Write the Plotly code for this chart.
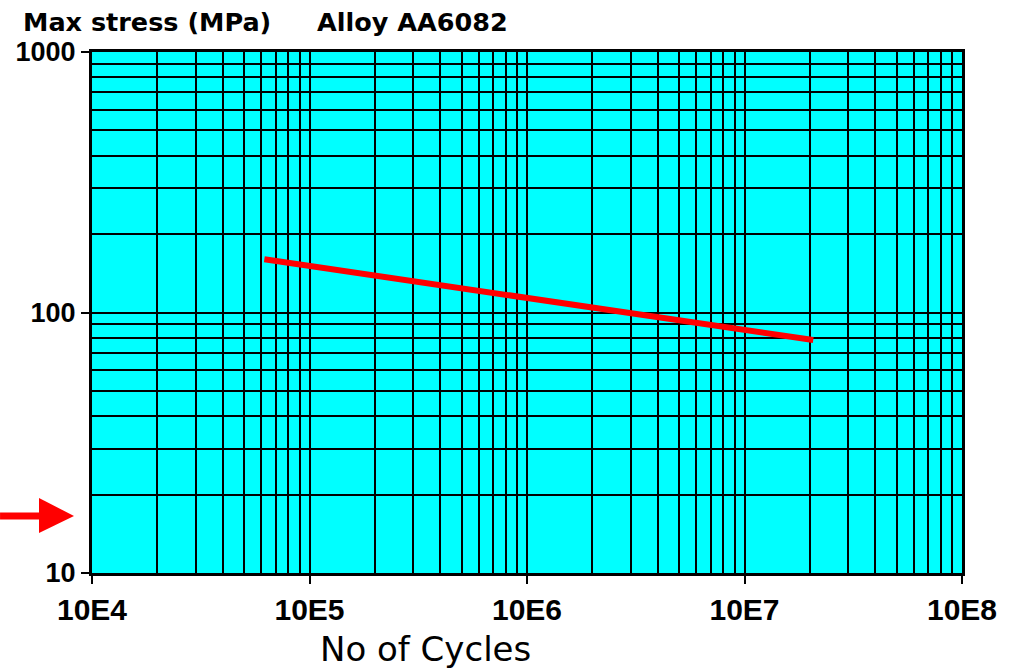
import plotly.graph_objects as go

# Data
cycles = [6.2e4, 2.07e7]
stress = [160, 78.4]
x_tick_vals = [1e4, 1e5, 1e6, 1e7, 1e8]
x_tick_text = ["10E4", "10E5", "10E6", "10E7", "10E8"]
y_tick_vals = [10, 100, 1000]
y_tick_text = ["10", "100", "1000"]

x_minor = [m * 10 ** e for e in range(4, 8) for m in range(2, 10)]
y_minor = [m * 10 ** e for e in range(1, 3) for m in range(2, 10)]

fig = go.Figure()
fig.add_trace(go.Scatter(x=cycles, y=stress, mode="lines",
                         line=dict(color="#FF0000", width=6),
                         showlegend=False, hoverinfo="skip"))

xtickfont = dict(family="Liberation Sans", size=30, color="black", weight="bold")
ytickfont = dict(family="Liberation Sans", size=27, color="black", weight="bold")

fig.update_xaxes(type="log", range=[4, 8], tickmode="array",
                 tickvals=x_tick_vals, ticktext=x_tick_text,
                 showgrid=True, gridcolor="black", gridwidth=2,
                 ticks="outside", ticklen=8, tickwidth=2, tickcolor="black",
                 showline=True, linecolor="black", linewidth=3, mirror=True,
                 tickfont=xtickfont, zeroline=False,
                 minor=dict(tickmode="array", tickvals=x_minor, showgrid=True,
                            gridcolor="black", gridwidth=2, ticks=""))
fig.update_yaxes(type="log", range=[1, 3], tickmode="array",
                 tickvals=y_tick_vals, ticktext=y_tick_text,
                 showgrid=True, gridcolor="black", gridwidth=2,
                 ticks="outside", ticklen=8, tickwidth=2, tickcolor="black",
                 showline=True, linecolor="black", linewidth=3, mirror=True,
                 tickfont=ytickfont, zeroline=False,
                 minor=dict(tickmode="array", tickvals=y_minor, showgrid=True,
                            gridcolor="black", gridwidth=2, ticks=""))

titlefont = dict(family="DejaVu Sans", size=25.5, color="black", weight="bold")
fig.add_annotation(text="Max stress (MPa)", xref="paper", yref="paper",
                   x=-0.082, y=1.058, xanchor="left", yanchor="middle",
                   showarrow=False, font=titlefont)
fig.add_annotation(text="Alloy AA6082", xref="paper", yref="paper",
                   x=0.256, y=1.058, xanchor="left", yanchor="middle",
                   showarrow=False, font=titlefont)
fig.add_annotation(text="No of Cycles", xref="paper", yref="paper",
                   x=0.383, y=-0.146, xanchor="center", yanchor="middle",
                   showarrow=False,
                   font=dict(family="DejaVu Sans", size=34, color="black"))

# red arrow pointing at the plot on the left
fig.add_shape(type="line", xref="paper", yref="paper",
              x0=-0.1057, x1=-0.058, y0=0.1094, y1=0.1094,
              line=dict(color="#FF0000", width=7))
fig.add_shape(type="path", xref="paper", yref="paper",
              path="M -0.0609 0.144 L -0.0207 0.1094 L -0.0609 0.0768 Z",
              fillcolor="#FF0000", line=dict(color="#FF0000", width=0))

fig.update_layout(width=1027, height=672,
                  margin=dict(l=92, r=65, t=52, b=99),
                  plot_bgcolor="#00FFFF", paper_bgcolor="white")

fig.write_html("out.html", config={"displayModeBar": False},
               post_script="document.body.style.margin='0';"
                           "document.body.style.overflow='hidden';")
